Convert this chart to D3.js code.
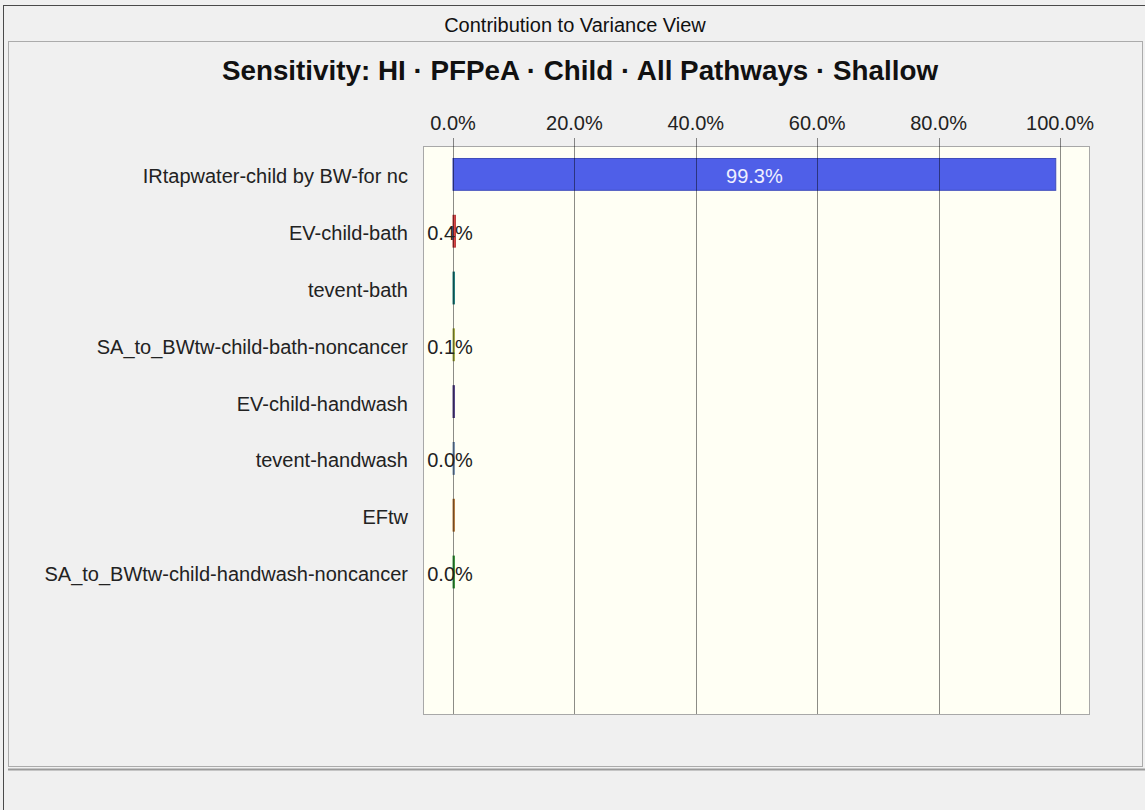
<!DOCTYPE html>
<html>
<head>
<meta charset="utf-8">
<script src="https://cdn.jsdelivr.net/npm/d3@7"></script>
<style>
  html, body { margin: 0; padding: 0; background: #f0f0f0; }
  svg { display: block; font-family: "Liberation Sans", Arial, sans-serif; }
</style>
</head>
<body>
<div id="chart"></div>
<script>
// Chart data
const headerText = "Contribution to Variance View";
const titleText = "Sensitivity: HI \u00b7 PFPeA \u00b7 Child \u00b7 All Pathways \u00b7 Shallow";
const categories = [
    "IRtapwater-child by BW-for nc",
    "EV-child-bath",
    "tevent-bath",
    "SA_to_BWtw-child-bath-noncancer",
    "EV-child-handwash",
    "tevent-handwash",
    "EFtw",
    "SA_to_BWtw-child-handwash-noncancer"
];
const contributions = [99.3, 0.4, 0.2, 0.1, 0.04, 0.02, 0.02, 0.01];
const showLabel = [true, true, false, true, false, true, false, true];
const barColors = ["#4f5fe8", "#e04646", "#2a9c9a", "#cfd85a", "#6a55a8", "#9ab8de", "#e09a50", "#4cbc50"];
const tickValues = [0, 20, 40, 60, 80, 100];
const slotCount = 10; // the chart keeps room for 10 rows

const width = 1145, height = 810;

const svg = d3.create("svg")
    .attr("width", width)
    .attr("height", height)
    .attr("viewBox", [0, 0, width, height]);

// Window frame and header
svg.append("rect")
    .attr("x", 3.5).attr("y", 5.5)
    .attr("width", width + 10).attr("height", height + 10)
    .attr("fill", "#f0f0f0")
    .attr("stroke", "#4a4a4a");

svg.append("text")
    .attr("x", 575).attr("y", 32)
    .attr("text-anchor", "middle")
    .style("font-family", "'Liberation Sans Narrow', 'Liberation Sans', sans-serif")
    .style("font-size", "20px")
    .attr("fill", "#111")
    .text(headerText);

// Dotted chart frame
svg.append("rect")
    .attr("x", 8.5).attr("y", 41.5)
    .attr("width", 1134).attr("height", 725)
    .attr("fill", "#f0f0f0")
    .attr("stroke", "#666")
    .attr("stroke-dasharray", "1,1");
svg.append("line")
    .attr("x1", 8).attr("x2", width)
    .attr("y1", 769.5).attr("y2", 769.5)
    .attr("stroke", "#9a9a9a")
    .attr("stroke-width", 2);

// Chart title
svg.append("text")
    .attr("x", 580).attr("y", 80)
    .attr("text-anchor", "middle")
    .style("font-size", "27.8px")
    .style("font-weight", "bold")
    .attr("fill", "#111")
    .text(titleText);

// Plot area
const plot = { left: 423, right: 1089, top: 146, bottom: 714 };

const x = d3.scaleLinear()
    .domain([0, 100])
    .range([453, 1060]);

const y = d3.scaleBand()
    .domain(d3.range(slotCount))
    .range([plot.top, plot.bottom])
    .paddingInner(0.44)
    .paddingOuter(0.22);

svg.append("rect")
    .attr("x", plot.left + 0.5).attr("y", plot.top + 0.5)
    .attr("width", plot.right - plot.left).attr("height", plot.bottom - plot.top)
    .attr("fill", "#fffff4")
    .attr("stroke", "#a8a8a8");

// Bars
const data = categories.map((c, i) => ({ name: c, value: contributions[i], i: i }));

svg.append("g")
    .selectAll("rect")
    .data(data)
    .join("rect")
    .attr("x", d => x(0))
    .attr("y", d => y(d.i))
    .attr("width", d => Math.max(x(d.value) - x(0), 1.5))
    .attr("height", y.bandwidth())
    .attr("fill", d => barColors[d.i])
    .attr("stroke", d => d3.color(barColors[d.i]).darker(0.6))
    .attr("stroke-width", 1);

// Gridlines on top of the bars
const grid = svg.append("g");
grid.selectAll("line")
    .data(tickValues)
    .join("line")
    .attr("x1", d => Math.round(x(d)) + 0.5)
    .attr("x2", d => Math.round(x(d)) + 0.5)
    .attr("y1", plot.top - 8)
    .attr("y2", plot.bottom)
    .attr("stroke", "#000")
    .attr("stroke-opacity", 0.45);

// Top axis labels
svg.append("g")
    .selectAll("text")
    .data(tickValues)
    .join("text")
    .attr("x", d => x(d))
    .attr("y", 130)
    .attr("text-anchor", "middle")
    .style("font-size", "20px")
    .attr("fill", "#222")
    .text(d => d3.format(".1f")(d) + "%");

// Category labels
svg.append("g")
    .selectAll("text")
    .data(data)
    .join("text")
    .attr("x", 408)
    .attr("y", d => y(d.i) + y.bandwidth() / 2 + 2)
    .attr("dy", "0.35em")
    .attr("text-anchor", "end")
    .style("font-size", "20px")
    .attr("fill", "#222")
    .text(d => d.name);

// Value labels
svg.append("g")
    .selectAll("text")
    .data(data.filter(d => showLabel[d.i]))
    .join("text")
    .attr("x", d => d.value > 10 ? (x(0) + x(d.value)) / 2 : x(0) - 3)
    .attr("y", d => y(d.i) + y.bandwidth() / 2 + 2)
    .attr("dy", "0.35em")
    .attr("text-anchor", "middle")
    .style("font-size", "20px")
    .attr("fill", d => d.value > 10 ? "#f0f0ff" : "#222")
    .text(d => d3.format(".1f")(d.value) + "%");

document.getElementById("chart").appendChild(svg.node());
</script>
</body>
</html>
